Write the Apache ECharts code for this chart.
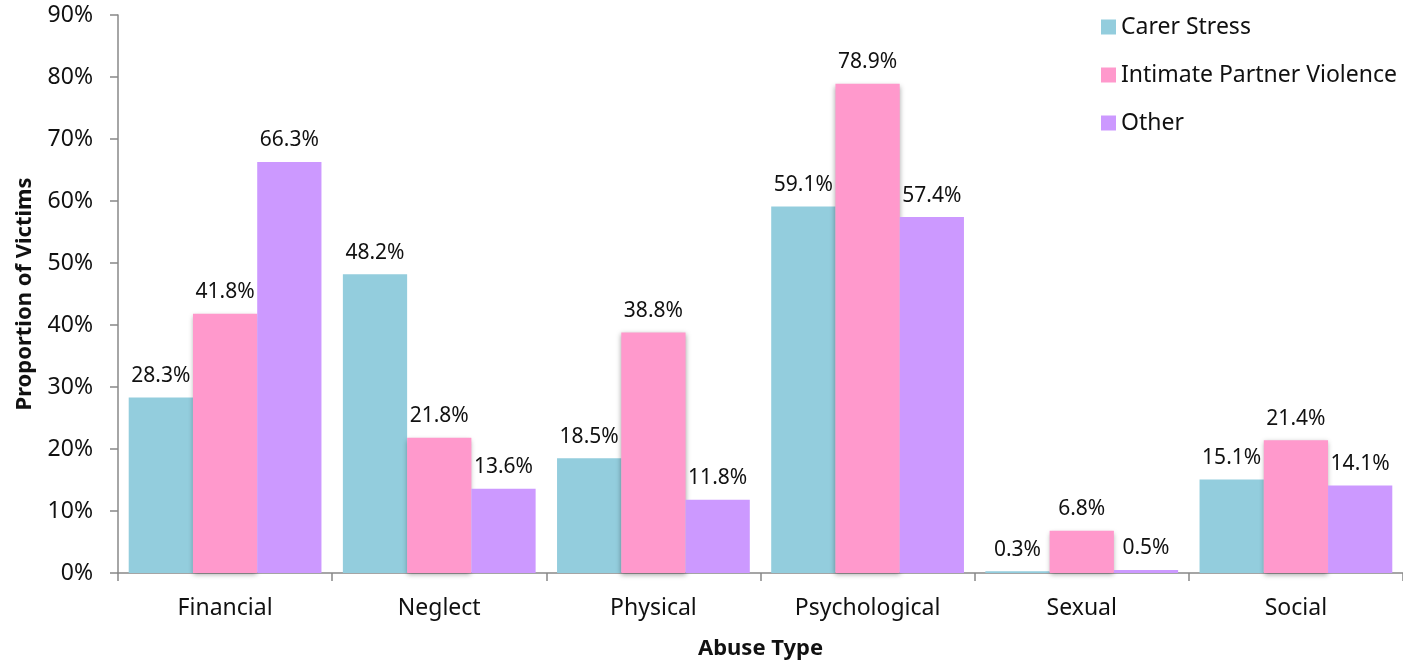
<!DOCTYPE html>
<html>
<head>
<meta charset="utf-8">
<script src="https://cdn.jsdelivr.net/npm/echarts@6/dist/echarts.min.js"></script>
<style>
  html, body { margin: 0; padding: 0; background: #fff; }
  #chart { width: 1403px; height: 665px; }
</style>
</head>
<body>
<div id="chart"></div>
<script>
// Abuse types on the category axis
const abuseTypes = ['Financial', 'Neglect', 'Physical', 'Psychological', 'Sexual', 'Social'];

// Share of victims (%) per abuse type for each perpetrator group
const carerStress = [28.3, 48.2, 18.5, 59.1, 0.3, 15.1];
const intimatePartnerViolence = [41.8, 21.8, 38.8, 78.9, 6.8, 21.4];
const other = [66.3, 13.6, 11.8, 57.4, 0.5, 14.1];

// Value axis range and step (percent)
const yMin = 0;
const yMax = 90;
const yStep = 10;

const FONT = 'Noto Sans';

const labelStyle = {
  show: true,
  position: 'top',
  distance: 11,
  color: '#111',
  fontFamily: FONT,
  fontSize: 21,
  formatter: p => p.value.toFixed(1) + '%'
};

function barSeries(name, data, color, extra) {
  return Object.assign({
    name: name,
    type: 'bar',
    data: data,
    barGap: '0%',
    barCategoryGap: '10%',
    itemStyle: { color: color },
    label: labelStyle,
    emphasis: { disabled: true }
  }, extra || {});
}

const chart = echarts.init(document.getElementById('chart'), null, { renderer: 'canvas' });

chart.setOption({
  animation: false,
  textStyle: { fontFamily: FONT },
  grid: { left: 118, right: 0, top: 15, bottom: 89, containLabel: false },
  legend: {
    orient: 'vertical',
    left: 1096,
    top: 10,
    itemWidth: 15,
    itemHeight: 15,
    itemGap: 24,
    icon: 'rect',
    textStyle: { fontFamily: FONT, fontSize: 23, lineHeight: 24, color: '#111' },
    data: ['Carer Stress', 'Intimate Partner Violence', 'Other']
  },
  xAxis: {
    type: 'category',
    data: abuseTypes,
    name: 'Abuse Type',
    nameLocation: 'middle',
    nameGap: 65,
    nameTextStyle: { fontFamily: FONT, fontSize: 22, fontWeight: 'bold', color: '#111' },
    axisLine: { lineStyle: { color: '#888', width: 1.5 } },
    axisTick: { show: true, length: 8, inside: false, lineStyle: { color: '#888', width: 1.5 } },
    axisLabel: { margin: 24, fontFamily: FONT, fontSize: 23, color: '#111' },
    splitLine: { show: false }
  },
  yAxis: {
    type: 'value',
    min: yMin,
    max: yMax,
    interval: yStep,
    name: 'Proportion of Victims',
    nameLocation: 'middle',
    nameGap: 82,
    nameRotate: 90,
    nameTextStyle: { fontFamily: FONT, fontSize: 22, fontWeight: 'bold', color: '#111' },
    axisLine: { show: true, lineStyle: { color: '#888', width: 1.5 } },
    axisTick: { show: true, length: 8, lineStyle: { color: '#888', width: 1.5 } },
    axisLabel: { margin: 25, fontFamily: FONT, fontSize: 23, color: '#111', formatter: v => v + '%' },
    splitLine: { show: false }
  },
  series: [
    barSeries('Carer Stress', carerStress, '#93CDDD'),
    barSeries('Intimate Partner Violence', intimatePartnerViolence, '#FF99CC', {
      itemStyle: {
        color: '#FF99CC',
        shadowColor: 'rgba(0,0,0,0.35)',
        shadowBlur: 5,
        shadowOffsetX: 0,
        shadowOffsetY: 2
      }
    }),
    barSeries('Other', other, '#CC99FF')
  ]
});
</script>
</body>
</html>
